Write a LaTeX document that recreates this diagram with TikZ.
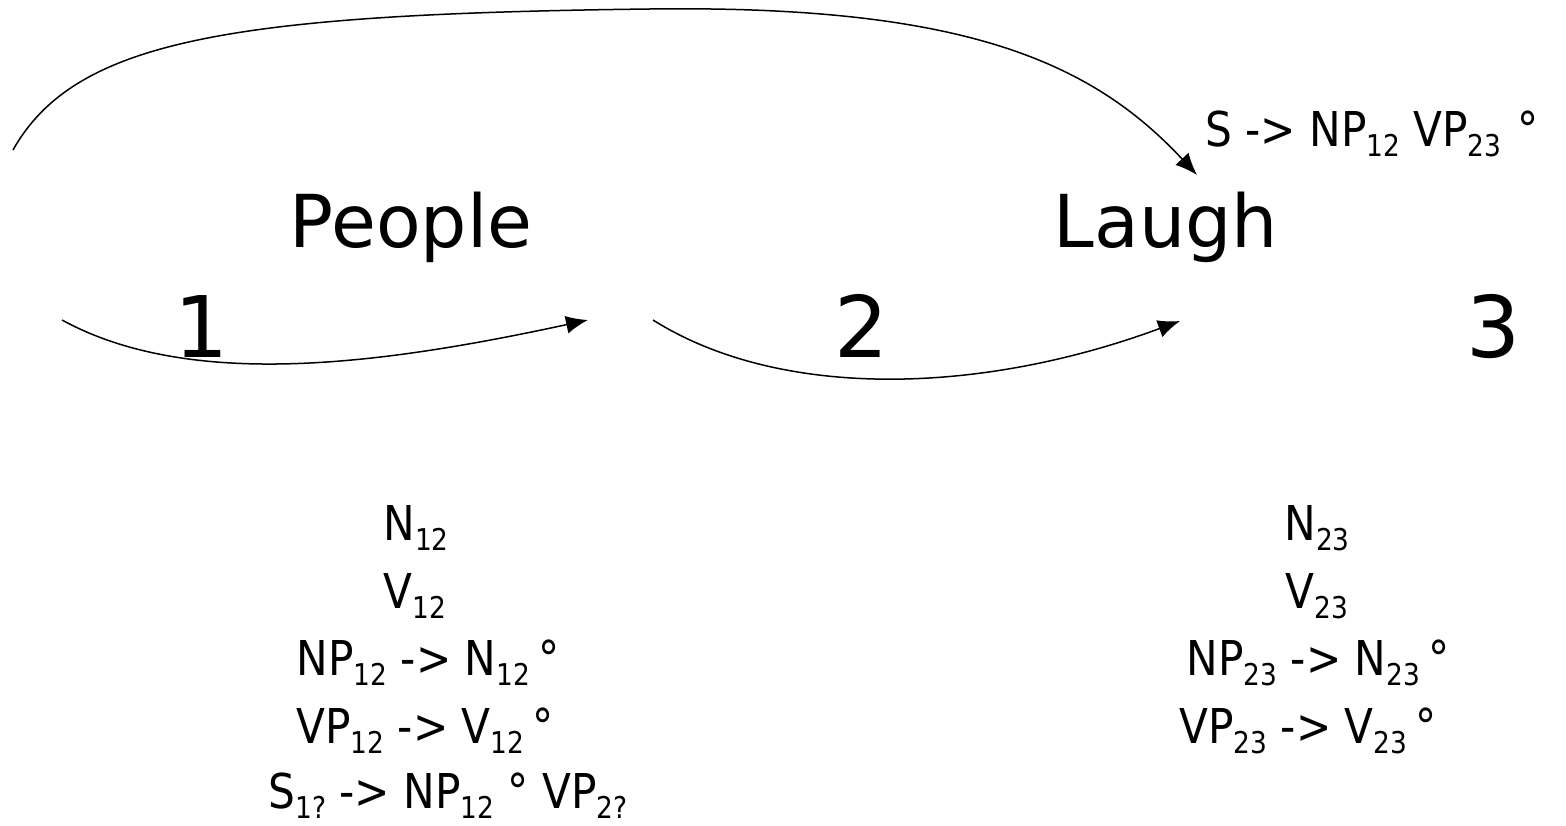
\documentclass[tikz,border=0pt]{standalone}
\usepackage{fontspec}
\setmainfont{DejaVu Sans}
\newfontfamily\smallfnt[FakeStretch=0.88]{DejaVu Sans}
\usetikzlibrary{arrows.meta}
\newcommand{\sbs}[1]{\raisebox{-10pt}{\fontsize{30}{30}\selectfont #1}}
\tikzset{
  big/.style={inner sep=0pt, anchor=base, font=\fontsize{73}{80}\selectfont},
  num/.style={inner sep=0pt, anchor=base, font=\fontsize{85}{90}\selectfont},
  rule/.style={inner sep=0pt, anchor=base, font=\smallfnt\fontsize{48}{52}\selectfont},
  conn/.style={line width=1.5pt, -{Latex[length=22pt,width=18pt]}}
}
\begin{document}
\begin{tikzpicture}[x=1pt,y=-1pt]
\useasboundingbox (0,0) rectangle (1566,826);
% words and positions
\node[big] (people) at (411,248) {People};
\node[big] (laugh) at (1166,248) {Laugh};
\node[num] (n1) at (202,357) {1};
\node[num] (n2) at (862,357) {2};
\node[num] (n3) at (1494,357) {3};
% edge label
\node[rule, anchor=base west] (top) at (1205,147) {S -> NP\sbs{12} VP\sbs{23}\hspace{16pt}°};
% left column
\node[rule] (l1) at (416,540) {N\sbs{12}};
\node[rule] (l2) at (415,608) {V\sbs{12}};
\node[rule] (l3) at (428,675) {NP\sbs{12} -> N\sbs{12}\,°};
\node[rule] (l4) at (425,743) {VP\sbs{12} -> V\sbs{12}\,°};
\node[rule] (l5) at (448,808) {S\sbs{1?} -> NP\sbs{12} ° VP\sbs{2?}};
% right column
\node[rule] (r1) at (1317,540) {N\sbs{23}};
\node[rule] (r2) at (1317,608) {V\sbs{23}};
\node[rule] (r3) at (1318,675) {NP\sbs{23} -> N\sbs{23}\,°};
\node[rule] (r4) at (1308,743) {VP\sbs{23} -> V\sbs{23}\,°};
% connector end points
\coordinate (a0) at (62,320);
\coordinate (a1) at (588,320);
\coordinate (b0) at (653,320);
\coordinate (b1) at (1180,321);
\coordinate (c0) at (13,150);
\coordinate (cm) at (650,9);
\coordinate (c1) at (1197,175);
\draw[conn] (a0) .. controls (190,390) and (380,365) .. (a1);
\draw[conn] (b0) .. controls (780,400) and (980,395) .. (b1);
\draw[conn] (c0) .. controls (75,40) and (230,14) .. (cm) .. controls (960,5) and (1090,60) .. (c1);
\end{tikzpicture}
\end{document}
